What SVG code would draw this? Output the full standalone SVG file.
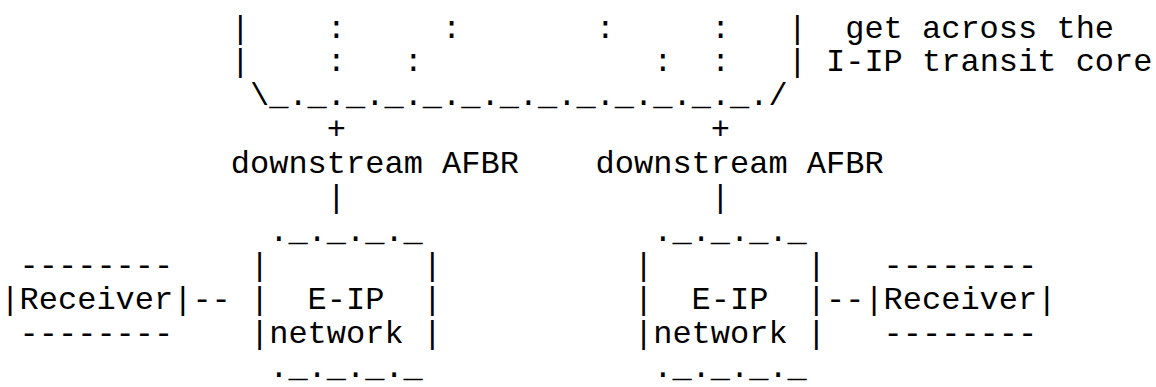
<svg xmlns="http://www.w3.org/2000/svg" width="1156" height="387" viewBox="0 0 1156 387" xml:space="preserve">
<style>
text { font-family: "Liberation Mono", "Courier New", monospace; font-size: 32px; fill: #000; white-space: pre; }
</style>
<rect width="1156" height="387" fill="#fff"/>
<g id="core">
<text x="230.8" y="37.5">|    :     :       :     :   |</text>
<text x="230.8" y="71.45">|    :   :            :  :   |</text>
<text x="250" y="105.4">\_._._._._._._._._._._._._./</text>
</g>
<g id="core-label">
<text x="845.2" y="37.5">get across the</text>
<text x="826" y="71.45">I-IP transit core</text>
</g>
<g id="afbr-left">
<text x="230.8" y="173.3">downstream AFBR</text>
</g>
<g id="afbr-right">
<text x="595.6" y="173.3">downstream AFBR</text>
</g>
<g id="eip-left">
<text x="269.2" y="241.2">._._._._</text>
<text x="250" y="275.15">|        |</text>
<text x="250" y="309.1">|  E-IP  |</text>
<text x="250" y="343.05">|network |</text>
<text x="269.2" y="377">._._._._</text>
</g>
<g id="eip-right">
<text x="653.2" y="241.2">._._._._</text>
<text x="634" y="275.15">|        |</text>
<text x="634" y="309.1">|  E-IP  |</text>
<text x="634" y="343.05">|network |</text>
<text x="653.2" y="377">._._._._</text>
</g>
<g id="receiver-left">
<text x="19.6" y="275.15">--------</text>
<text x="0.4" y="309.1">|Receiver|</text>
<text x="19.6" y="343.05">--------</text>
</g>
<g id="receiver-right">
<text x="883.6" y="275.15">--------</text>
<text x="864.4" y="309.1">|Receiver|</text>
<text x="883.6" y="343.05">--------</text>
</g>
<g id="connectors">
<text x="326.8" y="139.35">+</text>
<text x="710.8" y="139.35">+</text>
<text x="326.8" y="207.25">|</text>
<text x="710.8" y="207.25">|</text>
<text x="192.4" y="309.1">--</text>
<text x="826" y="309.1">--</text>
</g>
</svg>
